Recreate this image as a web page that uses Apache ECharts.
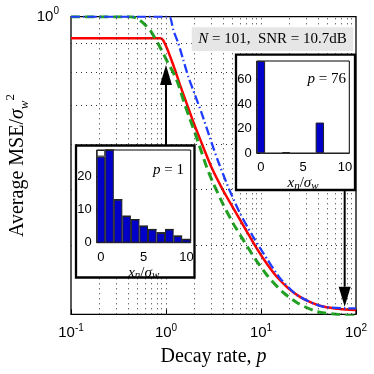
<!DOCTYPE html>
<html>
<head>
<meta charset="utf-8">
<script src="https://cdn.jsdelivr.net/npm/echarts@6/dist/echarts.min.js"></script>
<style>
  html, body { margin: 0; padding: 0; background: #fff; }
  #chart { width: 374px; height: 374px; }
</style>
</head>
<body>
<div id="chart"></div>
<script>
// curves: decay rate p vs average MSE / sigma_w^2
var pRed = [0.1, 0.3, 0.6, 0.865, 0.930, 1.0, 1.102, 1.244, 1.404, 1.664, 1.939, 2.279, 3.027, 4.078, 5.549, 7.124, 9.08, 11.57, 14.74, 19.24, 25.74, 34.42, 44.95, 67.87, 100];
var mseRed = [0.917, 0.917, 0.917, 0.917, 0.911, 0.889, 0.854, 0.808, 0.761, 0.704, 0.656, 0.613, 0.546, 0.4955, 0.4537, 0.4222, 0.3945, 0.3713, 0.3525, 0.3374, 0.3255, 0.3178, 0.3133, 0.3102, 0.3090];

var pGreen = [0.1, 0.3, 0.418, 0.494, 0.582, 0.696, 0.821, 0.929, 1.047, 1.190, 1.347, 1.547, 1.788, 2.176, 2.683, 3.147, 3.98, 5.09, 6.62, 8.68, 11.9, 17.2, 24.7, 38.6, 68, 100];
var mseGreen = [1.0, 1.0, 1.0, 0.9936, 0.9737, 0.9424, 0.8990, 0.8650, 0.8318, 0.8000, 0.7630, 0.7100, 0.6636, 0.6060, 0.5471, 0.5130, 0.4720, 0.4370, 0.4070, 0.3790, 0.3530, 0.3310, 0.3170, 0.3070, 0.3030, 0.3015];

var pBlue = [0.1, 0.3, 0.6, 1.0, 1.102, 1.193, 1.347, 1.521, 1.717, 2.020, 2.376, 2.906, 3.527, 4.605, 6.011, 7.943, 10.57, 15.85, 23.76, 41.79, 79.8, 100];
var mseBlue = [1.0, 1.0, 1.0, 1.0, 0.9988, 0.9481, 0.8990, 0.8407, 0.7862, 0.7308, 0.6792, 0.6152, 0.5610, 0.5015, 0.4549, 0.4188, 0.3878, 0.3508, 0.3281, 0.3139, 0.3110, 0.3110];

// histograms of x_n / sigma_w
var histBins = ['0', '1', '2', '3', '4', '5', '6', '7', '8', '9', '10'];
var histP1 = [26, 28, 13, 8, 7, 5, 4, 3, 4, 2, 1];
var histP1Extra = [2, 0, 0, 0, 0, 0, 0, 0, 0, 0, 0];
var histP76 = [75, 0, 0, 1, 0, 0, 0, 25, 0, 0, 0];

// dotted grid (minor ticks of the log axes)
var xGridTicks = [0.2, 0.3, 0.4, 0.5, 0.6, 0.7, 0.8, 0.9, 1, 2, 3, 4, 5, 6, 7, 8, 9, 10, 20, 30, 40, 50, 60, 70, 80, 90];
var yGridTicks = [0.4, 0.5, 0.6, 0.7, 0.8, 0.9];

// arrows from the insets to the curves
var arrowP = [1, 76];
var arrowFrom = [0.598, 0.4995];
var arrowTo = [0.824, 0.313];

var serif = "'Liberation Serif', 'DejaVu Serif', serif";
var sans = "'Liberation Sans', Arial, sans-serif";

function pairs(xs, ys) {
    return xs.map(function (x, i) { return [x, ys[i]]; });
}

var chart = echarts.init(document.getElementById("chart"));

var histName = "{i|x}{s|n}{t|/}{i|σ}{s|w}";
var histNameRich = {
    i: { fontFamily: serif, fontStyle: "italic", fontSize: 15, color: "#000", lineHeight: 16 },
    t: { fontFamily: serif, fontSize: 15, color: "#000", lineHeight: 16 },
    s: { fontFamily: serif, fontStyle: "italic", fontSize: 11, color: "#000", verticalAlign: "bottom", lineHeight: 10 }
};

function insetX(gridIndex) {
    return {
        type: "category", gridIndex: gridIndex, data: histBins, z: 21,
        axisLine: { show: false },
        axisTick: { show: false },
        axisLabel: { interval: 4, fontFamily: sans, fontSize: 13, color: "#000", margin: 8 },
        name: histName, nameLocation: "middle", nameGap: 22,
        nameTextStyle: { rich: histNameRich }
    };
}

function insetY(gridIndex, max, interval) {
    return {
        type: "value", gridIndex: gridIndex, min: 0, max: max, interval: interval, z: 21,
        axisLine: { show: false },
        axisTick: { show: true, inside: true, length: 3, lineStyle: { color: "#000" } },
        splitLine: { show: false },
        axisLabel: { fontFamily: sans, fontSize: 13, color: "#000", margin: 5, showMaxLabel: false }
    };
}

var barStyle = { color: "#0000c8", borderColor: "#222", borderWidth: 1 };

var option = {
    animation: false,
    backgroundColor: "#fff",
    grid: [
        { left: 71, right: 18, top: 16.7, bottom: 59.7, show: true, borderColor: "#000", borderWidth: 1.3, backgroundColor: "transparent" },
        { left: 96.7, top: 150, width: 94, height: 92.7, show: true, borderColor: "#000", borderWidth: 1, backgroundColor: "#fff", z: 20 },
        { left: 256.7, top: 61, width: 92.6, height: 92.3, show: true, borderColor: "#000", borderWidth: 1, backgroundColor: "#fff", z: 20 }
    ],
    xAxis: [
        {
            type: "log", logBase: 10, min: 0.1, max: 100, gridIndex: 0,
            axisLine: { show: false },
            axisTick: { show: true, inside: true, length: 5, lineStyle: { color: "#000" } },
            splitLine: { show: false },
            axisLabel: {
                margin: 9,
                formatter: function (v) {
                    return "{b|10}{s|" + Math.round(Math.log10(v)) + "}";
                },
                rich: {
                    b: { fontFamily: sans, fontSize: 15, color: "#000", lineHeight: 20 },
                    s: { fontFamily: sans, fontSize: 10, color: "#000", verticalAlign: "top", lineHeight: 10 }
                }
            },
            name: "{t|Decay rate, }{i|p}", nameLocation: "middle", nameGap: 32,
            nameTextStyle: {
                rich: {
                    t: { fontFamily: serif, fontSize: 20, color: "#000" },
                    i: { fontFamily: serif, fontStyle: "italic", fontSize: 20, color: "#000" }
                }
            }
        },
        insetX(1),
        insetX(2)
    ],
    yAxis: [
        {
            type: "log", logBase: 10, min: 0.3036, max: 1, gridIndex: 0,
            axisLine: { show: false },
            axisTick: { show: false },
            splitLine: { show: false },
            axisLabel: {
                margin: 12,
                showMinLabel: false,
                formatter: function (v) {
                    return Math.abs(v - 1) < 1e-6 ? "{b|10}{s|0}" : "";
                },
                rich: {
                    b: { fontFamily: sans, fontSize: 15, color: "#000", lineHeight: 20 },
                    s: { fontFamily: sans, fontSize: 10, color: "#000", verticalAlign: "top", lineHeight: 10 }
                }
            }
        },
        insetY(1, 28, 10),
        insetY(2, 75, 20)
    ],
    series: [
        {
            type: "line", xAxisIndex: 0, yAxisIndex: 0, z: 1,
            data: [[0.1, 1]], symbol: "none", lineStyle: { opacity: 0 },
            markLine: {
                silent: true, symbol: "none", animation: false,
                label: { show: false },
                lineStyle: { color: "#333", width: 1, type: [1, 4] },
                data: xGridTicks.map(function (v) { return { xAxis: v }; })
                    .concat(yGridTicks.map(function (v) { return { yAxis: v }; }))
            }
        },
        {
            name: "red", type: "line", xAxisIndex: 0, yAxisIndex: 0, z: 3,
            data: pairs(pRed, mseRed), symbol: "none", smooth: 0.2,
            lineStyle: { color: "#ff0000", width: 2.5 }
        },
        {
            name: "green", type: "line", xAxisIndex: 0, yAxisIndex: 0, z: 4,
            data: pairs(pGreen, mseGreen), symbol: "none", smooth: 0.2,
            lineStyle: { color: "#22a022", width: 3, type: [9, 5] }
        },
        {
            name: "blue", type: "line", xAxisIndex: 0, yAxisIndex: 0, z: 5,
            data: pairs(pBlue, mseBlue), symbol: "none", smooth: 0.2,
            lineStyle: { color: "#1f3cff", width: 2.3, type: [9, 3, 1.5, 3] }
        },
        {
            type: "bar", xAxisIndex: 1, yAxisIndex: 1, z: 22, stack: "h1",
            data: histP1, barWidth: "100%", barCategoryGap: 0, itemStyle: barStyle
        },
        {
            type: "bar", xAxisIndex: 1, yAxisIndex: 1, z: 22, stack: "h1",
            data: histP1Extra, barWidth: "100%", barCategoryGap: 0,
            itemStyle: { color: "#fff", borderColor: "#222", borderWidth: 1 }
        },
        {
            type: "bar", xAxisIndex: 2, yAxisIndex: 2, z: 22,
            data: histP76, barWidth: "100%", barCategoryGap: 0, itemStyle: barStyle
        }
    ]
};

chart.setOption(option);

// arrows, insets' frames and the text box
var graphics = [];
arrowP.forEach(function (p, i) {
    var a = chart.convertToPixel({ gridIndex: 0 }, [p, arrowFrom[i]]);
    var b = chart.convertToPixel({ gridIndex: 0 }, [p, arrowTo[i]]);
    var dir = b[1] < a[1] ? -1 : 1;
    var headLen = 20, halfW = 6;
    var baseY = b[1] - dir * headLen;
    graphics.push({
        type: "line", z: 15,
        shape: { x1: a[0], y1: a[1], x2: a[0], y2: baseY },
        style: { stroke: "#000", lineWidth: 2 }
    });
    graphics.push({
        type: "polygon", z: 15,
        shape: { points: [[b[0], b[1]], [b[0] - halfW, baseY], [b[0] + halfW, baseY]] },
        style: { fill: "#000" }
    });
});

graphics.push(
    {
        type: "rect", z: 16,
        shape: { x: 76, y: 145.5, width: 118.5, height: 132 },
        style: { fill: "#fff", stroke: "#000", lineWidth: 2.3 }
    },
    {
        type: "rect", z: 16,
        shape: { x: 236, y: 54.7, width: 119, height: 135.3 },
        style: { fill: "#fff", stroke: "#000", lineWidth: 2.3 }
    },
    {
        type: "rect", z: 14,
        shape: { x: 191.7, y: 27.3, width: 161.6, height: 23.7 },
        style: { fill: "#e6e6e6" }
    },
    {
        type: "text", z: 14, x: 272.5, y: 39.5,
        style: {
            text: "{i|N} = 101,  SNR = 10.7dB",
            align: "center", verticalAlign: "middle",
            fontFamily: serif, fontSize: 15, fill: "#000",
            rich: { i: { fontFamily: serif, fontStyle: "italic", fontSize: 15 } }
        }
    },
    {
        type: "text", z: 25, x: 184, y: 170,
        style: {
            text: "{i|p} = 1", align: "right", verticalAlign: "middle",
            fontFamily: serif, fontSize: 15, fill: "#000",
            rich: { i: { fontFamily: serif, fontStyle: "italic", fontSize: 15 } }
        }
    },
    {
        type: "text", z: 25, x: 346, y: 79.5,
        style: {
            text: "{i|p} = 76", align: "right", verticalAlign: "middle",
            fontFamily: serif, fontSize: 15, fill: "#000",
            rich: { i: { fontFamily: serif, fontStyle: "italic", fontSize: 15 } }
        }
    },
    {
        type: "text", z: 25, x: 18, y: 165.5, rotation: Math.PI / 2,
        style: {
            text: "{t|Average MSE/}{i|σ}{s|w}{u|2}",
            align: "center", verticalAlign: "middle", fill: "#000",
            rich: {
                t: { fontFamily: serif, fontSize: 20, lineHeight: 27 },
                i: { fontFamily: serif, fontStyle: "italic", fontSize: 20, lineHeight: 27 },
                s: { fontFamily: serif, fontStyle: "italic", fontSize: 13, verticalAlign: "bottom", lineHeight: 13 },
                u: { fontFamily: serif, fontSize: 13, verticalAlign: "top", lineHeight: 13 }
            }
        }
    }
);

chart.setOption({ graphic: graphics });
</script>
</body>
</html>
